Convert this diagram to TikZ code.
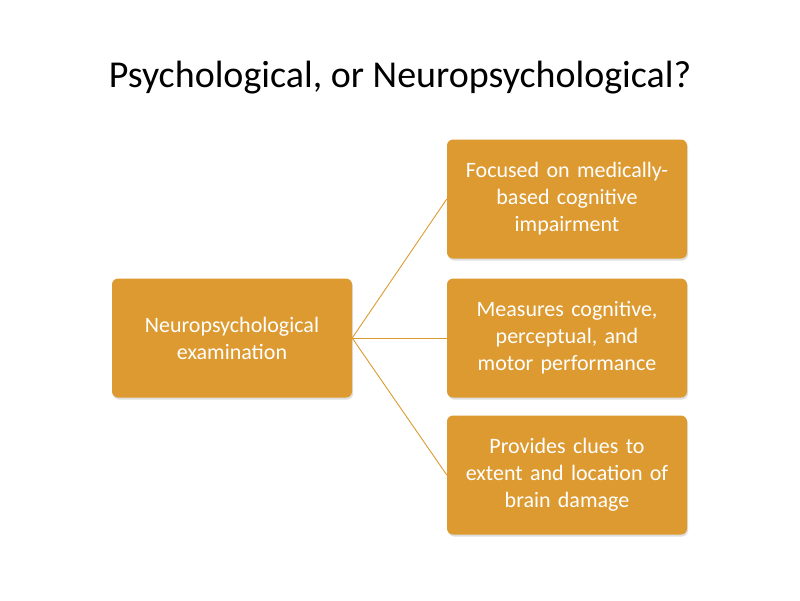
\documentclass[tikz,border=0pt]{standalone}
\usepackage{fontspec}
\setmainfont{Carlito}
\usetikzlibrary{positioning,shadows}
\definecolor{boxorange}{HTML}{DC9A31}
\begin{document}
\begin{tikzpicture}[x=1pt,y=-1pt,
  box/.style={fill=boxorange, rounded corners=6pt, minimum width=240pt, minimum height=119pt,
    text width=230pt, align=center, text=white, font=\fontsize{22}{27}\selectfont,
    drop shadow={opacity=0.25, shadow xshift=1pt, shadow yshift=-2pt}},
  link/.style={boxorange, line width=0.9pt}]
  \useasboundingbox (0,0) rectangle (800,600);
  \node[font=\fontsize{38}{44}\selectfont] (title) at (400,78) {Psychological, or Neuropsychological?};

  \node[box] (exam) at (232,338) {Neuropsychological\\examination};
  \node[box] (focus) at (567,199) {Focused on medically-\\based cognitive\\impairment};
  \node[box] (measure) at (567,338) {Measures cognitive,\\perceptual, and\\motor performance};
  \node[box] (clues) at (567,475) {Provides clues to\\extent and location of\\brain damage};

  \draw[link] (exam.east) -- (focus.west);
  \draw[link] (exam.east) -- (measure.west);
  \draw[link] (exam.east) -- (clues.west);
\end{tikzpicture}
\end{document}
